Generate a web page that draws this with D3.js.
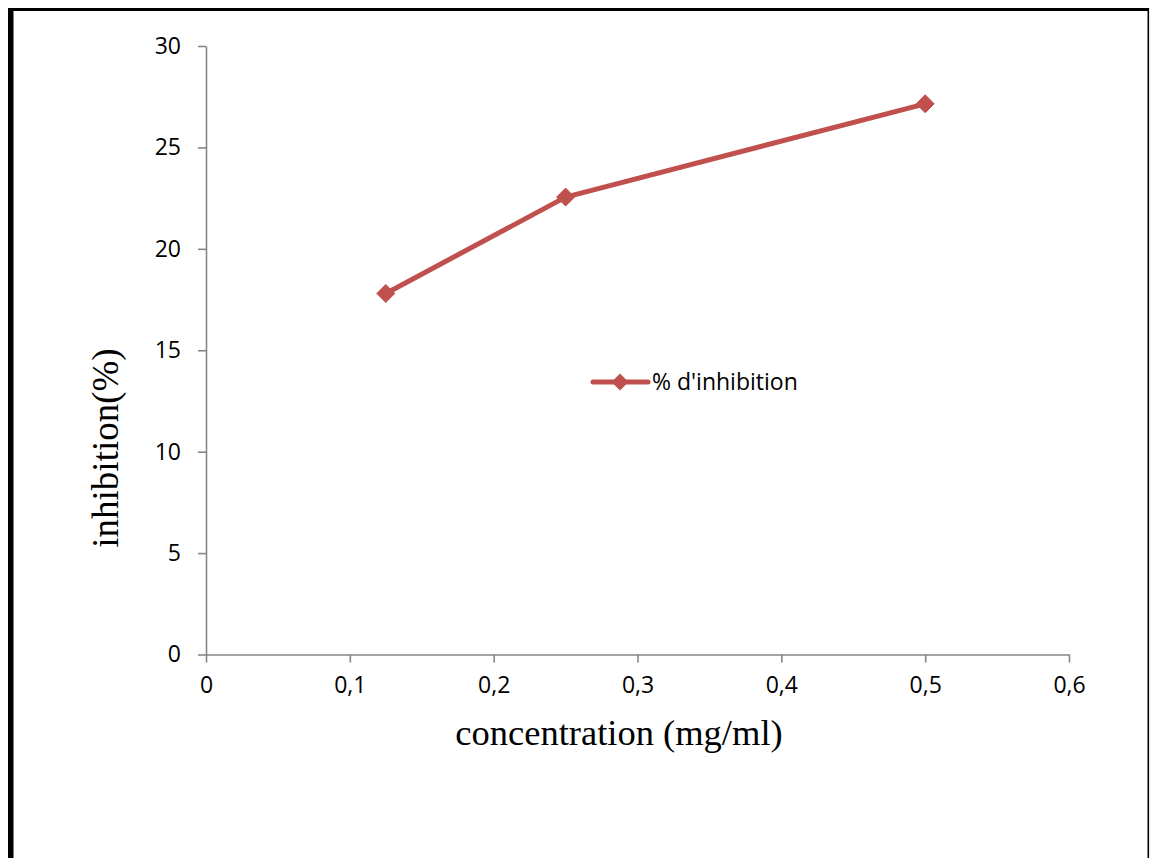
<!DOCTYPE html>
<html>
<head>
<meta charset="utf-8">
<script src="https://cdn.jsdelivr.net/npm/d3@7"></script>
<style>
  html, body { margin: 0; padding: 0; background: #fff; }
  svg { display: block; }
</style>
</head>
<body>
<div id="chart"></div>
<script>
// data
const concentrations = [0.125, 0.25, 0.5];
const inhibition = [17.8, 22.55, 27.15];
const seriesName = "% d'inhibition";
const xTicks = [0, 0.1, 0.2, 0.3, 0.4, 0.5, 0.6];
const yTicks = [0, 5, 10, 15, 20, 25, 30];
const xTitle = 'concentration (mg/ml)';
const yTitle = 'inhibition(%)';

const width = 1150;
const height = 858;
const plot = { left: 206, right: 1069, top: 46, bottom: 654.5 };
const axisColor = '#868686';
const lineColor = '#C0504D';
const tickFont = '"Open Sans", sans-serif';
const titleFont = '"Liberation Serif", "Times New Roman", serif';

const svg = d3
  .select('#chart')
  .append('svg')
  .attr('width', width)
  .attr('height', height);

svg.append('rect').attr('width', width).attr('height', height).attr('fill', '#fff');

// frame (cropped at the bottom)
svg.append('rect').attr('x', 8).attr('y', 8).attr('width', 5.5).attr('height', height - 8).attr('fill', '#000');
svg.append('rect').attr('x', 8).attr('y', 8).attr('width', 1141).attr('height', 3).attr('fill', '#000');
svg.append('rect').attr('x', 1147.5).attr('y', 8).attr('width', 1.6).attr('height', height - 8).attr('fill', '#000');

const x = d3.scaleLinear().domain([0, 0.6]).range([plot.left, plot.right]);
const y = d3.scaleLinear().domain([0, 30]).range([plot.bottom, plot.top]);

const fmt = (d) => String(d).replace('.', ',');

const xAxis = svg
  .append('g')
  .attr('transform', `translate(0, ${plot.bottom})`)
  .call(d3.axisBottom(x).tickValues(xTicks).tickFormat(fmt).tickSize(8).tickSizeOuter(0).tickPadding(14));

const yAxis = svg
  .append('g')
  .attr('transform', `translate(${plot.left}, 0)`)
  .call(d3.axisLeft(y).tickValues(yTicks).tickFormat(fmt).tickSize(8).tickSizeOuter(0).tickPadding(17));

[xAxis, yAxis].forEach((g) => {
  g.select('.domain').attr('stroke', axisColor).attr('stroke-width', 1.6);
  g.selectAll('.tick line').attr('stroke', axisColor).attr('stroke-width', 1.6);
  g.selectAll('.tick text')
    .attr('fill', '#000')
    .style('font-family', tickFont)
    .style('font-size', '23px');
});

// series
const points = concentrations.map((c, i) => ({ c, v: inhibition[i] }));

svg
  .append('path')
  .datum(points)
  .attr('fill', 'none')
  .attr('stroke', lineColor)
  .attr('stroke-width', 5)
  .attr('stroke-linejoin', 'round')
  .attr('d', d3.line().x((d) => x(d.c)).y((d) => y(d.v)));

const diamond = (r) => `M0,${-r}L${r},0L0,${r}L${-r},0Z`;

svg
  .append('g')
  .selectAll('path')
  .data(points)
  .join('path')
  .attr('transform', (d) => `translate(${x(d.c)}, ${y(d.v)})`)
  .attr('d', diamond(9))
  .attr('fill', lineColor)
  .attr('stroke', lineColor)
  .attr('stroke-width', 1);

// legend
const legend = svg.append('g').attr('transform', 'translate(593, 382)');
legend
  .append('line')
  .attr('x1', 0)
  .attr('x2', 55)
  .attr('stroke', lineColor)
  .attr('stroke-width', 5)
  .attr('stroke-linecap', 'round');
legend
  .append('path')
  .attr('transform', 'translate(27, 0)')
  .attr('d', diamond(8.5))
  .attr('fill', lineColor);
legend
  .append('text')
  .attr('x', 59)
  .attr('y', 8)
  .style('font-family', tickFont)
  .style('font-size', '23px')
  .text(seriesName);

// axis titles
svg
  .append('text')
  .attr('x', 619)
  .attr('y', 745)
  .attr('text-anchor', 'middle')
  .style('font-family', titleFont)
  .style('font-size', '36.5px')
  .text(xTitle);

svg
  .append('text')
  .attr('transform', 'translate(118, 448) rotate(-90)')
  .attr('text-anchor', 'middle')
  .style('font-family', titleFont)
  .style('font-size', '37px')
  .text(yTitle);
</script>
</body>
</html>
